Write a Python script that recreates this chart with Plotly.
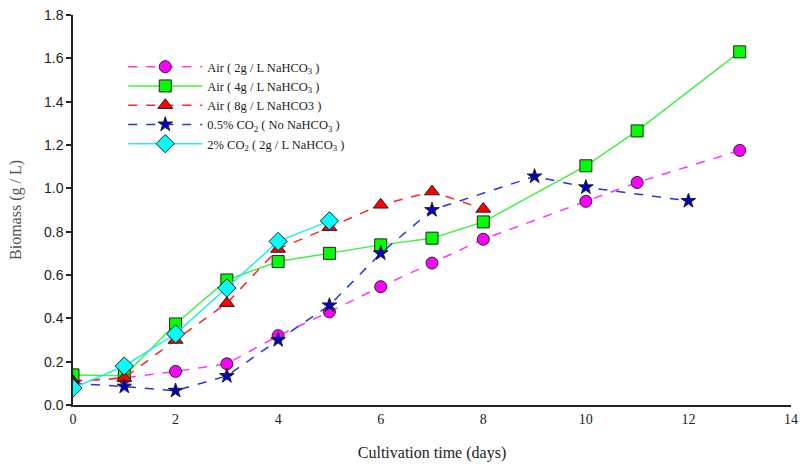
import plotly.graph_objects as go

days_air2 = [0, 1, 2, 3, 4, 5, 6, 7, 8, 10, 11, 13]
air2 = [0.11, 0.125, 0.155, 0.19, 0.32, 0.43, 0.546, 0.655, 0.765, 0.94, 1.027, 1.175]

days_air4 = [0, 1, 2, 3, 4, 5, 6, 7, 8, 10, 11, 13]
air4 = [0.139, 0.135, 0.374, 0.577, 0.662, 0.70, 0.739, 0.77, 0.845, 1.104, 1.265, 1.63]

days_air8 = [0, 1, 2, 3, 4, 5, 6, 7, 8]
air8 = [0.11, 0.125, 0.30, 0.47, 0.72, 0.82, 0.924, 0.985, 0.905]

days_co05 = [0, 1, 2, 3, 4, 5, 6, 7, 9, 10, 12]
co05 = [0.10, 0.085, 0.066, 0.134, 0.30, 0.46, 0.70, 0.90, 1.055, 1.005, 0.942]

days_co2 = [0, 1, 2, 3, 4, 5]
co2 = [0.078, 0.18, 0.328, 0.54, 0.755, 0.85]

names = [
    "Air ( 2g / L NaHCO<sub>3</sub> )",
    "Air ( 4g / L NaHCO<sub>3</sub> )",
    "Air ( 8g / L NaHCO3 )",
    "0.5% CO<sub>2</sub> ( No NaHCO<sub>3</sub> )",
    "2% CO<sub>2</sub> ( 2g / L NaHCO<sub>3</sub> )",
]

series = [
    (days_air2, air2, "#ff33ff", "#ff00ff", "circle", "dash", 12),
    (days_air4, air4, "#44ee44", "#00ff00", "square", "solid", 12),
    (days_air8, air8, "#ff2222", "#ff0000", "triangle-up", "dash", 13),
    (days_co05, co05, "#2233ee", "#0000cc", "star", "dash", 11),
    (days_co2, co2, "#22eeee", "#00ffff", "diamond", "solid", 14),
]

fig = go.Figure()
for (x, y, lc, mc, sym, dash, size), nm in zip(series, names):
    fig.add_trace(go.Scatter(
        x=x, y=y, name=nm, mode="lines+markers",
        line=dict(color=lc, width=1.5, dash=dash),
        marker=dict(symbol=sym, size=size, color=mc,
                    line=dict(color="#222222", width=1)),
    ))

serif = "Liberation Serif, Times New Roman, serif"
fig.update_layout(
    width=800, height=464,
    margin=dict(l=73, r=9, t=15, b=59),
    paper_bgcolor="white", plot_bgcolor="white",
    showlegend=True,
    legend=dict(x=0.07, y=0.905, xanchor="left", yanchor="top",
                font=dict(family=serif, size=12.5, color="#222222"),
                bgcolor="rgba(0,0,0,0)", tracegroupgap=0, itemwidth=74),
    xaxis=dict(range=[0, 14], tickvals=[0, 2, 4, 6, 8, 10, 12, 14],
               automargin=False,
               showline=True, linecolor="#222222", linewidth=1.5,
               showgrid=False, zeroline=False, ticks="",
               tickfont=dict(family=serif, size=14, color="#222222"),
               title=dict(text="Cultivation time (days)",
                          font=dict(family=serif, size=16, color="#222222"),
                          standoff=21)),
    yaxis=dict(range=[0, 1.8], dtick=0.2, tickformat=".1f",
               automargin=False,
               showline=True, linecolor="#222222", linewidth=1.5,
               showgrid=False, zeroline=False, ticks="outside", ticklen=5,
               tickcolor="#222222", tickwidth=1.5,
               tickfont=dict(family="Liberation Sans, Arial, sans-serif", size=14, color="#222222"),
               title=dict(text="Biomass (g / L)",
                          font=dict(family=serif, size=16, color="#555555"),
                          standoff=18)),
)

fig.write_html("out.html")
